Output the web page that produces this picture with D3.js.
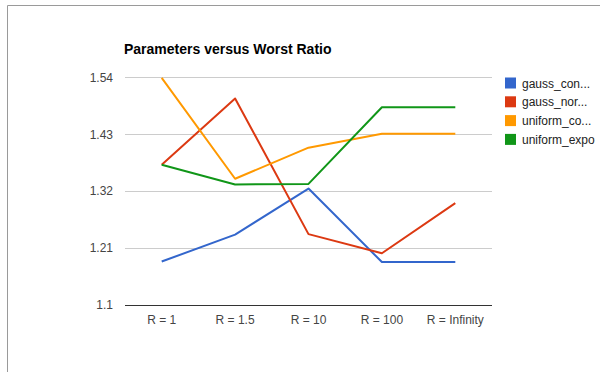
<!DOCTYPE html>
<html>
<head>
<meta charset="utf-8">
<script src="https://cdn.jsdelivr.net/npm/d3@7"></script>
<style>
  html, body { margin: 0; padding: 0; background: #fff; }
  svg { display: block; font-family: Arial, "Liberation Sans", sans-serif; }
</style>
</head>
<body>
<svg id="chart" width="600" height="372"></svg>
<script>
// Categories along the x axis
const categories = ["R = 1", "R = 1.5", "R = 10", "R = 100", "R = Infinity"];

// Series names (as shown in the legend) and their values
const seriesNames = ["gauss_con...", "gauss_nor...", "uniform_co...", "uniform_expo"];
const gaussCon    = [1.184, 1.236, 1.325, 1.183, 1.183];
const gaussNor    = [1.371, 1.499, 1.237, 1.200, 1.297];
const uniformCo   = [1.539, 1.344, 1.404, 1.431, 1.431];
const uniformExpo = [1.371, 1.333, 1.334, 1.482, 1.482];
const seriesValues = [gaussCon, gaussNor, uniformCo, uniformExpo];
const seriesColors = ["#3366cc", "#dc3912", "#ff9900", "#109618"];

// Y axis ticks
const yTicks = [1.1, 1.21, 1.32, 1.43, 1.54];

const svg = d3.select("#chart");

// Outer frame (top and left edges)
svg.append("path")
  .attr("d", "M7.5,372 L7.5,5.5 L600,5.5")
  .attr("fill", "none")
  .attr("stroke", "#9a9a9a")
  .attr("stroke-width", 1);

const x = d3.scaleBand().domain(categories).range([125, 492]);
const y = d3.scaleLinear().domain([1.1, 1.54]).range([305, 77.3]);

// Title
svg.append("text")
  .attr("x", 124).attr("y", 54)
  .attr("font-size", 14).attr("font-weight", "bold")
  .attr("fill", "#000")
  .text("Parameters versus Worst Ratio");

// Gridlines and y labels
const yAxis = d3.axisLeft(y).tickValues(yTicks).tickSize(0).tickPadding(12)
  .tickFormat(d => String(d));
const gy = svg.append("g").attr("transform", "translate(125,0)").call(yAxis);
gy.select(".domain").remove();
gy.selectAll("text").attr("font-size", 12).attr("fill", "#444")
  .attr("font-family", "Arial, 'Liberation Sans', sans-serif");

svg.append("g").selectAll("line")
  .data(yTicks.filter(t => t !== 1.1))
  .join("line")
  .attr("x1", 125).attr("x2", 492)
  .attr("y1", d => Math.round(y(d)) + 0.5).attr("y2", d => Math.round(y(d)) + 0.5)
  .attr("stroke", "#cccccc").attr("stroke-width", 1);

// X axis with baseline
const xAxis = d3.axisBottom(x).tickSize(0).tickPadding(10);
const gx = svg.append("g").attr("transform", `translate(0,${Math.round(y(1.1)) + 0.5})`).call(xAxis);
gx.select(".domain").remove();
gx.selectAll("text").attr("font-size", 12).attr("fill", "#444")
  .attr("font-family", "Arial, 'Liberation Sans', sans-serif");
svg.append("line")
  .attr("x1", 125).attr("x2", 492)
  .attr("y1", Math.round(y(1.1)) + 0.5).attr("y2", Math.round(y(1.1)) + 0.5)
  .attr("stroke", "#333").attr("stroke-width", 1);

// Series lines
const line = d3.line()
  .x((d, i) => x(categories[i]) + x.bandwidth() / 2)
  .y(d => y(d));

svg.append("g").selectAll("path")
  .data(seriesValues)
  .join("path")
  .attr("d", d => line(d))
  .attr("fill", "none")
  .attr("stroke", (d, i) => seriesColors[i])
  .attr("stroke-width", 2)
  .attr("stroke-linejoin", "round");

// Legend
const legend = svg.append("g").selectAll("g")
  .data(seriesNames)
  .join("g")
  .attr("transform", (d, i) => `translate(505,${77.5 + i * 18.8})`);
legend.append("rect")
  .attr("width", 11).attr("height", 11)
  .attr("fill", (d, i) => seriesColors[i]);
legend.append("text")
  .attr("x", 17).attr("y", 10)
  .attr("font-size", 12).attr("fill", "#222")
  .text(d => d);
</script>
</body>
</html>
